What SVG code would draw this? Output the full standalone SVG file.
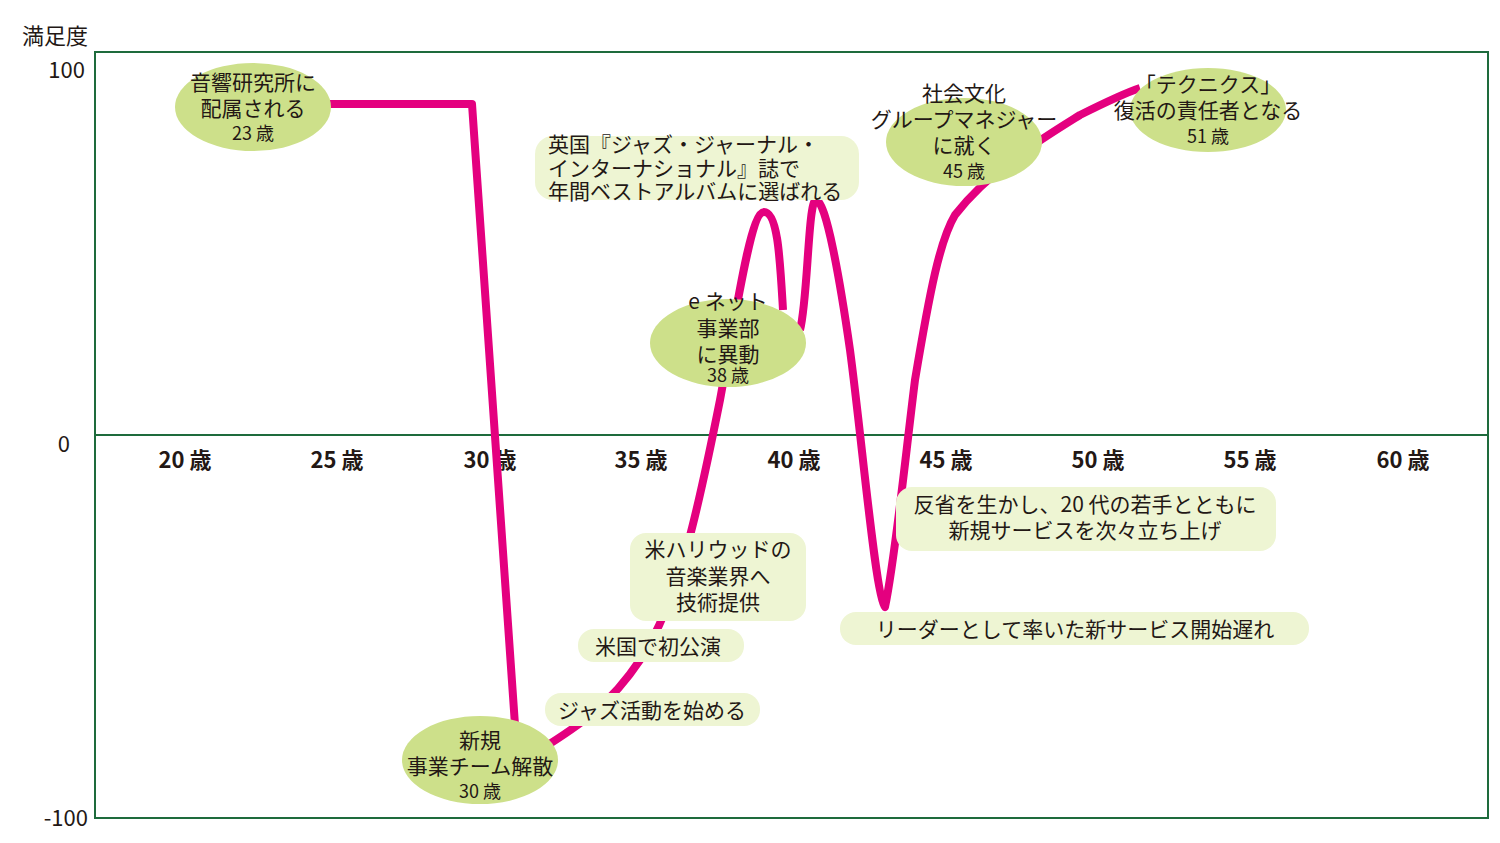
<svg xmlns="http://www.w3.org/2000/svg" width="1500" height="843" viewBox="0 0 1500 843">
<style>
text{font-family:"Noto Sans CJK JP","Noto Sans",sans-serif;fill:#231815}
.lb{font-size:21px;text-anchor:middle}
.ax{font-size:22px;font-weight:bold;text-anchor:middle}
.yl{font-size:22px;text-anchor:end}
.age{font-size:18px;text-anchor:middle}
.el{fill:#cde08a}
.bx{fill:#eef5d3}
</style>
<rect width="1500" height="843" fill="#fff"/>
<g id="axes" stroke="#1e6b3c" stroke-width="2" fill="none">
<rect x="95" y="52" width="1393" height="766"/>
<line x1="95" y1="435" x2="1488" y2="435"/>
</g>
<text x="22" y="44" style="font-size:22px">満足度</text>
<text class="yl" x="85" y="78">100</text>
<text class="yl" x="70" y="452">0</text>
<text class="yl" x="88" y="826">-100</text>
<g id="xlabels">
<text class="ax" x="185" y="468">20 歳</text><text class="ax" x="337" y="468">25 歳</text><text class="ax" x="490" y="468">30 歳</text><text class="ax" x="641" y="468">35 歳</text><text class="ax" x="794" y="468">40 歳</text><text class="ax" x="946" y="468">45 歳</text><text class="ax" x="1098" y="468">50 歳</text><text class="ax" x="1250" y="468">55 歳</text><text class="ax" x="1403" y="468">60 歳</text>
</g>
<g id="connectors">
<path d="M320,104 L472,104 L515,725 M540,750 C580,725 610,705 640,660 C680,600 700,500 720,400 C735,320 750,212 764,212 C778,212 780,260 783,310 M800,330 C808,300 808,200 816,200 C826,200 840,280 850,350 C862,440 876,600 885,607 C895,560 905,460 915,380 C930,290 940,240 955,215 C990,170 1040,140 1080,115 C1110,100 1125,93 1140,88" fill="none" stroke="#e4007f" stroke-width="8" stroke-linejoin="round"/>
</g>
<g id="n23"><ellipse class="el" cx="253" cy="107" rx="78" ry="44"/><text class="lb" x="253" y="90">音響研究所に</text><text class="lb" x="253" y="116">配属される</text><text class="age" x="253" y="140">23 歳</text></g>
<g id="n30"><ellipse class="el" cx="480" cy="760" rx="78" ry="44"/><text class="lb" x="480" y="748">新規</text><text class="lb" x="480" y="774">事業チーム解散</text><text class="age" x="480" y="798">30 歳</text></g>
<g id="n38"><ellipse class="el" cx="728" cy="343" rx="78" ry="44"/><text class="lb" x="728" y="309">e ネット</text><text class="lb" x="728" y="336">事業部</text><text class="lb" x="728" y="362">に異動</text><text class="age" x="728" y="382">38 歳</text></g>
<g id="n45"><ellipse class="el" cx="964" cy="142" rx="78" ry="44"/><text class="lb" x="964" y="101">社会文化</text><text class="lb" x="964" y="127">グループマネジャー</text><text class="lb" x="964" y="153">に就く</text><text class="age" x="964" y="178">45 歳</text></g>
<g id="n51"><ellipse class="el" cx="1208" cy="110" rx="78" ry="42"/><text class="lb" x="1208" y="92">「テクニクス」</text><text class="lb" x="1208" y="118">復活の責任者となる</text><text class="age" x="1208" y="143">51 歳</text></g>
<g id="b1"><rect class="bx" x="535" y="136" width="324" height="64" rx="18"/><text class="lb" x="548" y="152" text-anchor="start" style="text-anchor:start">英国『ジャズ・ジャーナル・</text><text class="lb" style="text-anchor:start" x="548" y="176">インターナショナル』誌で</text><text class="lb" style="text-anchor:start" x="548" y="199">年間ベストアルバムに選ばれる</text></g>
<g id="b2"><rect class="bx" x="630" y="533" width="176" height="88" rx="16"/><text class="lb" x="718" y="557">米ハリウッドの</text><text class="lb" x="718" y="584">音楽業界へ</text><text class="lb" x="718" y="610">技術提供</text></g>
<g id="b3"><rect class="bx" x="578" y="629" width="166" height="33" rx="16"/><text class="lb" x="658" y="654">米国で初公演</text></g>
<g id="b4"><rect class="bx" x="545" y="693" width="215" height="33" rx="16"/><text class="lb" x="652" y="718">ジャズ活動を始める</text></g>
<g id="b5"><rect class="bx" x="896" y="487" width="380" height="64" rx="16"/><text class="lb" x="1085" y="512">反省を生かし、20 代の若手とともに</text><text class="lb" x="1085" y="538">新規サービスを次々立ち上げ</text></g>
<g id="b6"><rect class="bx" x="840" y="612" width="469" height="33" rx="16"/><text class="lb" x="1075" y="637">リーダーとして率いた新サービス開始遅れ</text></g>
</svg>
